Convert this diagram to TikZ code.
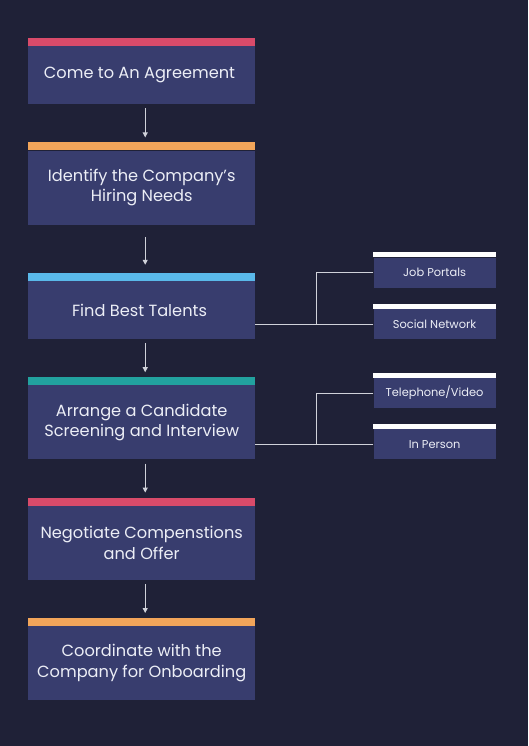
\documentclass[tikz,border=0pt]{standalone}
\usepackage{fontspec}
\newfontfamily\poppins{Poppins}
\usetikzlibrary{positioning,arrows.meta}
\definecolor{bg}{HTML}{1F2137}
\definecolor{boxfill}{HTML}{383D6E}
\definecolor{fg}{HTML}{ECEEF6}
\definecolor{arrowgray}{HTML}{D0D2DA}
\definecolor{barred}{HTML}{D94B6A}
\definecolor{barorange}{HTML}{F2A55A}
\definecolor{barblue}{HTML}{5AB9EA}
\definecolor{barteal}{HTML}{22A29F}
\begin{document}
\begin{tikzpicture}[x=1pt,y=-1pt]
    % Define Styles
        \tikzstyle{block} = [
            rectangle,
            fill=boxfill,
            align = center,
            minimum height=74pt,
            minimum width = 227pt,
            inner sep = 0pt,
            text = fg,
            font = \poppins\fontsize{16.2}{20.5}\selectfont
        ]
        \tikzstyle{small} = [
            block,
            minimum height=30pt,
            minimum width = 122pt,
            font = \poppins\fontsize{11.4}{13}\selectfont
        ]
        \tikzstyle{line} = [
            draw=arrowgray,
            line width = 1pt,
            -{Triangle[length=5pt, width=5pt]}
        ]
        \tikzstyle{branch} = [
            draw=arrowgray,
            line width = 1pt
        ]
    % Background
        \fill[bg] (0,0) rectangle (528,746);
    % Place nodes
        \node [block, minimum height=58pt, anchor=north west] (1) at (28,46) {%
            Come to An Agreement
        };
        \node [block, below = 46pt of 1] (2) {%
            Identify the Company’s \\
            Hiring Needs
        };
        \node [block, minimum height=58pt, below = 56pt of 2] (3) {%
            Find Best Talents
        };
        \node [block, below = 46pt of 3] (4) {%
            Arrange a Candidate \\
            Screening and Interview
        };
        \node [block, below = 46pt of 4] (5) {%
            Negotiate Compenstions \\
            and Offer
        };
        \node [block, below = 46pt of 5] (6) {%
            Coordinate with the \\
            Company for Onboarding
        };
        \node [small, anchor=south west] (soc) at ([xshift=118pt]3.south east) {Social Network};
        \node [small, above = 21pt of soc] (jp) {Job Portals};
        \node [small, anchor=south west] (inp) at ([xshift=118pt]4.south east) {In Person};
        \node [small, above = 21pt of inp] (tel) {Telephone/Video};
    % Colour bars
        \foreach \n/\c in {1/barred, 2/barorange, 3/barblue, 4/barteal, 5/barred, 6/barorange}
            \fill [\c] ([yshift=8pt]\n.north west) rectangle (\n.north east);
        \foreach \n in {jp, soc, tel, inp}
            \fill [white] ([yshift=5pt]\n.north west) rectangle (\n.north east);
    % Draw edges
        \path [line, shorten <=4pt, shorten >=13pt] ([xshift=3.5pt]1.south) -- ([xshift=3.5pt]2.north);
        \path [line, shorten <=12pt, shorten >=16pt] ([xshift=3.5pt]2.south) -- ([xshift=3.5pt]3.north);
        \path [line, shorten <=4pt, shorten >=13pt] ([xshift=3.5pt]3.south) -- ([xshift=3.5pt]4.north);
        \path [line, shorten <=4pt, shorten >=13pt] ([xshift=3.5pt]4.south) -- ([xshift=3.5pt]5.north);
        \path [line, shorten <=4pt, shorten >=13pt] ([xshift=3.5pt]5.south) -- ([xshift=3.5pt]6.north);
        \path [branch] (soc.west) -- (soc.west -| 3.east);
        \path [branch] (jp.west) -| ([xshift=-57pt]soc.west);
        \path [branch] (inp.west) -- (inp.west -| 4.east);
        \path [branch] (tel.west) -| ([xshift=-57pt]inp.west);
\end{tikzpicture}
\end{document}
